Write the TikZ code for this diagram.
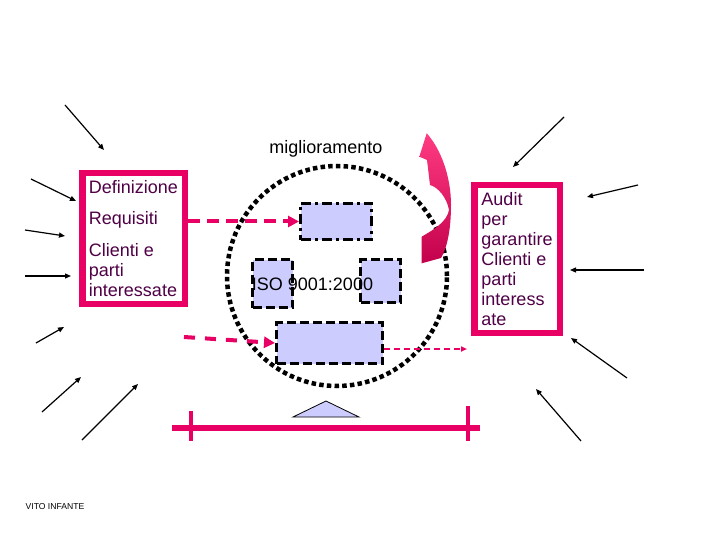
\documentclass[tikz,border=0pt]{standalone}
\usepackage{fontspec}
\setmainfont{Liberation Sans}
\usetikzlibrary{arrows.meta}
\definecolor{pk}{RGB}{232,0,100}
\definecolor{lav}{RGB}{204,204,255}
\definecolor{txt}{RGB}{80,0,70}
\definecolor{arrtop}{RGB}{255,60,130}
\definecolor{arrbot}{RGB}{195,0,75}
\begin{document}
\begin{tikzpicture}[x=1pt,y=-1pt,
  ptr/.style={line width=1.2pt,-{Triangle[length=6pt,width=5pt]}},
  pinkbox/.style={draw=pk,line width=6.5pt,fill=white,inner sep=0pt,align=left,
    font=\fontsize{18}{20}\selectfont,text=txt},
  lavbox/.style={draw=black,fill=lav,line width=3pt,dash pattern=on 9pt off 4pt,inner sep=0pt},
  pkdash/.style={draw=pk,line width=4pt,dash pattern=on 12pt off 7pt,-{Triangle[length=11pt,width=11pt]}},
  lbl/.style={font=\fontsize{18}{20}\selectfont,anchor=base,inner sep=0pt}]
\useasboundingbox (0,0) rectangle (720,540);

% dotted ring
\node[circle,minimum size=220pt,inner sep=0pt,draw=black,line width=4.5pt,
  dash pattern=on 4.5pt off 3.2pt] (ring) at (337,276) {};

% lavender boxes
\node[lavbox,dash pattern=on 10pt off 4pt on 3pt off 4pt,minimum width=71pt,minimum height=36pt] (top) at (336,221.5) {};
\node[lavbox,minimum width=40pt,minimum height=48pt] (lsq) at (272.5,283.5) {};
\node[lavbox,minimum width=40pt,minimum height=43pt] (rsq) at (380.5,281) {};
\node[lavbox,minimum width=106pt,minimum height=41pt] (bot) at (329.5,343) {};
\node[lbl] (iso) at (312.5,290) {ISO 9001:2000};

% pink boxes
\node[pinkbox,minimum width=102.5pt,minimum height=130.5pt] (lbox) at (133.5,238.5)
  {Definizione\\[11.5pt]Requisiti\\[11.5pt]Clienti e\\parti\\interessate};
\node[pinkbox,minimum width=85.5pt,minimum height=147.5pt] (rbox) at (517,259)
  {Audit\\per\\garantire\\Clienti e\\parti\\interess\\ate};

% miglioramento
\node[lbl] (migl) at (326,154) {miglioramento};

% curved arrow
\shade[top color=arrtop,bottom color=arrbot]
  (426.7,133.3) .. controls (440,148) and (451,175) .. (451,205)
  .. controls (451,230) and (447,248) .. (441,258)
  -- (421.7,263.3) -- (421.7,236.7)
  .. controls (433,230) and (447,222) .. (449,210)
  .. controls (447,198) and (438,187) .. (430,185)
  -- (427,160) -- (419.3,156.7) -- cycle;

% pink dashed arrows
\draw[pkdash] (lbox.east |- top.west) -- (top.west);
\coordinate (a2) at (184,337);
\draw[pkdash,dash pattern=on 11pt off 10pt] (a2) -- (bot.west);
\coordinate (a3s) at (bot.east |- 0,349);
\coordinate (a3e) at (467,349);
\draw[pk,line width=1.5pt,dash pattern=on 6pt off 4pt,-{Triangle[length=6pt,width=5pt]}] (a3s) -- (a3e);

% black arrows, left
\coordinate (l1s) at (65,105);  \coordinate (l1e) at (104,150);
\coordinate (l2s) at (31,179);  \coordinate (l2e) at (76,201);
\coordinate (l3s) at (25,230);  \coordinate (l3e) at (65,236);
\coordinate (l4s) at (25,276);  \coordinate (l4e) at (71,276);
\coordinate (l5s) at (36,343);  \coordinate (l5e) at (64,327);
\coordinate (l6s) at (42,412);  \coordinate (l6e) at (81,377);
\coordinate (l7s) at (82,440);  \coordinate (l7e) at (138,384);
\foreach \i in {1,...,7} \draw[ptr] (l\i s) -- (l\i e);

% black arrows, right
\coordinate (r1s) at (564,117); \coordinate (r1e) at (513,167);
\coordinate (r2s) at (638,185); \coordinate (r2e) at (587,197);
\coordinate (r3s) at (644,270); \coordinate (r3e) at (570,270);
\coordinate (r4s) at (627,378); \coordinate (r4e) at (571,338);
\coordinate (r5s) at (581,441); \coordinate (r5e) at (536,389);
\foreach \i in {1,...,5} \draw[ptr] (r\i s) -- (r\i e);

% balance
\draw[fill=lav,line width=0.8pt] (326,401) -- (359,417) -- (293,417) -- cycle;
\coordinate (bl) at (172,428); \coordinate (br) at (480,428);
\draw[pk,line width=6.5pt] (bl) -- (br);
\coordinate (t1a) at (191,411); \coordinate (t1b) at (191,441);
\coordinate (t2a) at (468,406); \coordinate (t2b) at (468,441);
\draw[pk,line width=4pt] (t1a) -- (t1b);
\draw[pk,line width=4pt] (t2a) -- (t2b);

\node[font=\fontsize{8.6}{10}\selectfont,anchor=base,inner sep=0pt] (vito) at (55,509) {VITO INFANTE};
\end{tikzpicture}
\end{document}
